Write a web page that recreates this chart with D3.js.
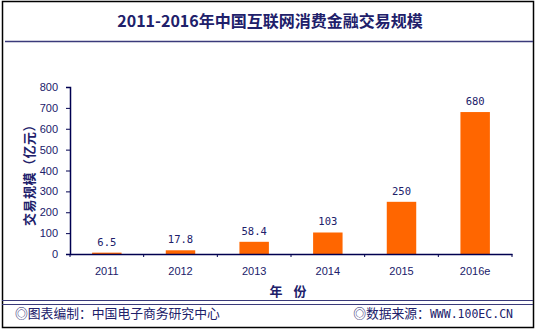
<!DOCTYPE html>
<html><head><meta charset="utf-8">
<script src="https://cdn.jsdelivr.net/npm/d3@7"></script>
<style>
html,body{margin:0;padding:0;background:#fff;}
svg{display:block;}
</style></head>
<body>
<svg id="chart" width="538" height="332"></svg>
<script>
const categories = ["2011","2012","2013","2014","2015","2016e"];
const values = [6.5, 17.8, 58.4, 103, 250, 680];
const valueLabels = ["6.5","17.8","58.4","103","250","680"];
const yTicks = [0,100,200,300,400,500,600,700,800];
const title = "2011-2016年中国互联网消费金融交易规模";
const yTitle = "交易规模（亿元）";
const xTitle = "年 份";
const footLeft = "◎图表编制：中国电子商务研究中心";
const footRightA = "◎数据来源：";
const footRightB = "WWW.100EC.CN";

const navy = "#20206a";
const svg = d3.select("#chart");
const cjk = "'Noto Sans CJK SC', sans-serif";
const mono = "'DejaVu Sans Mono', 'Liberation Mono', monospace";

// frame
svg.append("rect").attr("x",2.5).attr("y",1.5).attr("width",531).attr("height",326)
  .attr("fill","#fff").attr("stroke","#000").attr("stroke-width",1.5);
svg.append("line").attr("x1",5).attr("x2",533).attr("y1",41.5).attr("y2",41.5)
  .attr("stroke","#3a3a7a").attr("stroke-width",1.5);
svg.append("line").attr("x1",2).attr("x2",533).attr("y1",300.5).attr("y2",300.5)
  .attr("stroke","#3a3a7a").attr("stroke-width",1.2);
svg.append("line").attr("x1",2).attr("x2",533).attr("y1",304.5).attr("y2",304.5)
  .attr("stroke","#3a3a7a").attr("stroke-width",1.2);

svg.append("text").attr("x",270).attr("y",27).attr("text-anchor","middle")
  .attr("font-family",cjk).attr("font-weight","bold").attr("font-size",16)
  .attr("fill",navy).text(title);

const m = {left:70, right:512, top:87, bottom:254};
const x = d3.scaleBand().domain(categories).range([m.left,m.right]).paddingInner(0.6).paddingOuter(0.3);
const xb = d3.scaleBand().domain(categories).range([m.left,m.right]);
const y = d3.scaleLinear().domain([0,800]).range([m.bottom,m.top]);

// bars
svg.append("g").selectAll("rect").data(values).join("rect")
  .attr("x",(d,i)=>x(categories[i])).attr("width",x.bandwidth())
  .attr("y",d=>y(d)).attr("height",d=>y(0)-y(d)).attr("fill","#ff6600");

// value labels
svg.append("g").selectAll("text").data(values).join("text")
  .attr("x",(d,i)=>x(categories[i])+x.bandwidth()/2).attr("y",d=>y(d)-7)
  .attr("text-anchor","middle").attr("font-family",mono).attr("font-size",10.5)
  .attr("fill",navy).text((d,i)=>valueLabels[i]);

// y axis
const yAxis = svg.append("g").attr("transform",`translate(${m.left},0)`)
  .call(d3.axisLeft(y).tickValues(yTicks).tickSize(4).tickSizeOuter(4).tickPadding(8));
yAxis.select(".domain").attr("stroke","#000050").attr("stroke-width",1.5);
yAxis.selectAll(".tick line").attr("stroke","#000050");
yAxis.selectAll("text").attr("font-family","Arial, 'Liberation Sans', sans-serif").attr("font-size",11).attr("fill",navy);

// x axis
const xAxis = svg.append("g").attr("transform",`translate(0,${m.bottom})`)
  .call(d3.axisBottom(xb).tickSize(0).tickPadding(13));
xAxis.select(".domain").attr("stroke","#000050").attr("stroke-width",1.5);
xAxis.selectAll("text").attr("font-family","Arial, 'Liberation Sans', sans-serif").attr("font-size",11).attr("fill",navy);
// boundary ticks
const bounds = categories.map(c=>xb(c)).concat([m.right]);
svg.append("g").selectAll("line").data(bounds).join("line")
  .attr("x1",d=>d).attr("x2",d=>d).attr("y1",m.bottom).attr("y2",m.bottom+3)
  .attr("stroke","#000050");

// axis titles
svg.append("text").attr("x",290).attr("y",296).attr("text-anchor","middle")
  .attr("font-family",cjk).attr("font-weight","bold").attr("font-size",13)
  .attr("letter-spacing",4)
  .attr("fill",navy).attr("xml:space","preserve").text(xTitle);
svg.append("text").attr("transform","translate(34,172) rotate(-90)").attr("text-anchor","middle")
  .attr("font-family",cjk).attr("font-weight","bold").attr("font-size",13)
  .attr("letter-spacing",0.5)
  .attr("fill",navy).text(yTitle);

// footer
svg.append("text").attr("x",15).attr("y",318).attr("font-family",cjk).attr("font-size",12.8)
  .attr("fill",navy).text(footLeft);
const fr = svg.append("text").attr("x",513).attr("y",318).attr("text-anchor","end")
  .attr("fill",navy);
fr.append("tspan").attr("font-family",cjk).attr("font-size",12.8).text(footRightA);
fr.append("tspan").attr("font-family",mono).attr("font-size",11.5).text(footRightB);
</script>
</body></html>
